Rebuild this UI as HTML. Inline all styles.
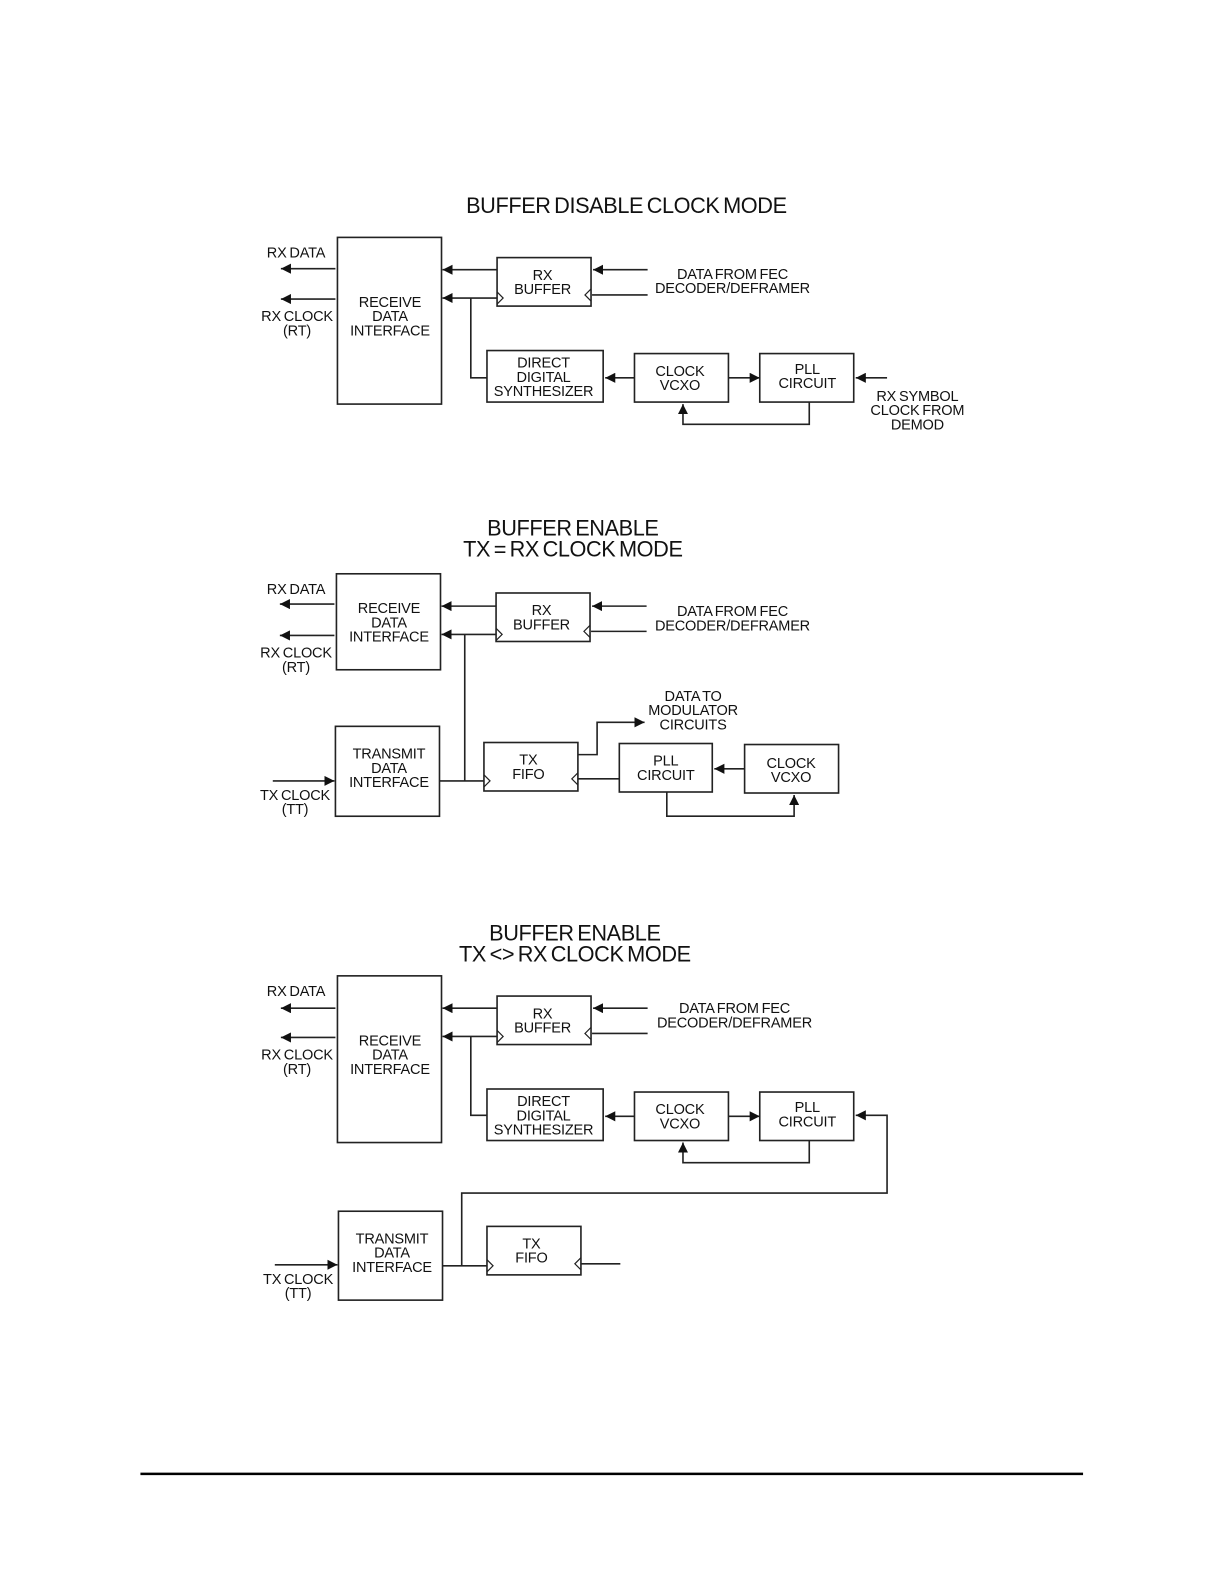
<!DOCTYPE html>
<html><head><meta charset="utf-8"><style>
html,body{margin:0;padding:0;background:#fff;width:1224px;height:1584px;overflow:hidden;}
svg{display:block;position:absolute;left:0;top:0;}
text{font-family:"Liberation Sans",sans-serif;font-size:14.4px;fill:#111;text-anchor:middle;letter-spacing:-0.2px;word-spacing:-1px;}
.t{font-size:21.5px;letter-spacing:-0.4px;word-spacing:-2px;}
.b{fill:none;stroke:#222;stroke-width:1.6;}
.l{fill:none;stroke:#222;stroke-width:1.6;}
.c{fill:none;stroke:#222;stroke-width:1.2;}
</style></head><body>
<svg width="1224" height="1584" viewBox="0 0 1211.5 1568" preserveAspectRatio="none" xmlns="http://www.w3.org/2000/svg">
<defs>
<marker id="a" viewBox="0 0 10 10" refX="10" refY="5" markerWidth="10" markerHeight="10" markerUnits="userSpaceOnUse" orient="auto">
<path d="M0,0 L10,5 L0,10 z" fill="#111"/></marker>
</defs>

<!-- ===== Diagram 1 ===== -->
<text class="t" x="620" y="211">BUFFER DISABLE CLOCK MODE</text>
<rect class="b" x="334" y="235" width="103" height="165"/>
<text x="386" y="304">RECEIVE</text><text x="386" y="318">DATA</text><text x="386" y="332">INTERFACE</text>
<text x="293" y="255">RX DATA</text>
<line class="l" x1="332" y1="266" x2="278" y2="266" marker-end="url(#a)"/>
<line class="l" x1="332" y1="296" x2="278" y2="296" marker-end="url(#a)"/>
<text x="294" y="318">RX CLOCK</text><text x="294" y="332">(RT)</text>
<rect class="b" x="492" y="255" width="93" height="48"/>
<text x="537" y="277">RX</text><text x="537" y="291">BUFFER</text>
<path class="c" d="M492,289 L498,295 L492,301"/>
<path class="c" d="M585,286 L579,292 L585,298"/>
<line class="l" x1="492" y1="267" x2="438" y2="267" marker-end="url(#a)"/>
<line class="l" x1="492" y1="295" x2="438" y2="295" marker-end="url(#a)"/>
<path class="l" d="M466,295 V374 H482"/>
<line class="l" x1="641" y1="267" x2="587" y2="267" marker-end="url(#a)"/>
<line class="l" x1="641" y1="292" x2="586" y2="292"/>
<text x="725" y="276">DATA FROM FEC</text><text x="725" y="290">DECODER/DEFRAMER</text>
<rect class="b" x="482" y="347" width="115" height="51"/>
<text x="538" y="364">DIRECT</text><text x="538" y="378">DIGITAL</text><text x="538" y="392">SYNTHESIZER</text>
<rect class="b" x="628" y="350" width="93" height="48"/>
<text x="673" y="372">CLOCK</text><text x="673" y="386">VCXO</text>
<rect class="b" x="752" y="350" width="93" height="48"/>
<text x="799" y="370">PLL</text><text x="799" y="384">CIRCUIT</text>
<line class="l" x1="628" y1="374" x2="599" y2="374" marker-end="url(#a)"/>
<line class="l" x1="721" y1="374" x2="752" y2="374" marker-end="url(#a)"/>
<line class="l" x1="878" y1="374" x2="847" y2="374" marker-end="url(#a)"/>
<text x="908" y="397">RX SYMBOL</text><text x="908" y="411">CLOCK FROM</text><text x="908" y="425">DEMOD</text>
<path class="l" d="M801,398 V420 H676 V400" marker-end="url(#a)"/>

<!-- ===== Diagram 2 ===== -->
<text class="t" x="567" y="530">BUFFER ENABLE</text>
<text class="t" x="567" y="551">TX = RX CLOCK MODE</text>
<rect class="b" x="333" y="568" width="103" height="95"/>
<text x="385" y="607">RECEIVE</text><text x="385" y="621">DATA</text><text x="385" y="635">INTERFACE</text>
<text x="293" y="588">RX DATA</text>
<line class="l" x1="331" y1="598" x2="277" y2="598" marker-end="url(#a)"/>
<line class="l" x1="331" y1="629" x2="277" y2="629" marker-end="url(#a)"/>
<text x="293" y="651">RX CLOCK</text><text x="293" y="665">(RT)</text>
<rect class="b" x="491" y="587" width="93" height="48"/>
<text x="536" y="609">RX</text><text x="536" y="623">BUFFER</text>
<path class="c" d="M491,622 L497,628 L491,634"/>
<path class="c" d="M584,619 L578,625 L584,631"/>
<line class="l" x1="491" y1="600" x2="437" y2="600" marker-end="url(#a)"/>
<line class="l" x1="491" y1="628" x2="437" y2="628" marker-end="url(#a)"/>
<line class="l" x1="640" y1="600" x2="586" y2="600" marker-end="url(#a)"/>
<line class="l" x1="640" y1="625" x2="585" y2="625"/>
<text x="725" y="610">DATA FROM FEC</text><text x="725" y="624">DECODER/DEFRAMER</text>
<line class="l" x1="460" y1="628" x2="460" y2="773"/>
<rect class="b" x="332" y="719" width="103" height="89"/>
<text x="385" y="751">TRANSMIT</text><text x="385" y="765">DATA</text><text x="385" y="779">INTERFACE</text>
<line class="l" x1="270" y1="773" x2="331" y2="773" marker-end="url(#a)"/>
<text x="292" y="792">TX CLOCK</text><text x="292" y="806">(TT)</text>
<line class="l" x1="435" y1="773" x2="479" y2="773"/>
<rect class="b" x="479" y="735" width="93" height="48"/>
<text x="523" y="757">TX</text><text x="523" y="771">FIFO</text>
<path class="c" d="M479,767 L485,773 L479,779"/>
<path class="c" d="M572,765 L566,771 L572,777"/>
<path class="l" d="M572,747 H591 V715 H638" marker-end="url(#a)"/>
<text x="686" y="694">DATA TO</text><text x="686" y="708">MODULATOR</text><text x="686" y="722">CIRCUITS</text>
<rect class="b" x="613" y="736" width="92" height="48"/>
<text x="659" y="758">PLL</text><text x="659" y="772">CIRCUIT</text>
<line class="l" x1="613" y1="771" x2="572" y2="771"/>
<rect class="b" x="737" y="737" width="93" height="48"/>
<text x="783" y="760">CLOCK</text><text x="783" y="774">VCXO</text>
<line class="l" x1="737" y1="761" x2="707" y2="761" marker-end="url(#a)"/>
<path class="l" d="M660,784 V808 H786 V787" marker-end="url(#a)"/>

<!-- ===== Diagram 3 ===== -->
<text class="t" x="569" y="931">BUFFER ENABLE</text>
<text class="t" x="569" y="952">TX &lt;&gt; RX CLOCK MODE</text>
<rect class="b" x="334" y="966" width="103" height="165"/>
<text x="386" y="1035">RECEIVE</text><text x="386" y="1049">DATA</text><text x="386" y="1063">INTERFACE</text>
<text x="293" y="986">RX DATA</text>
<line class="l" x1="332" y1="998" x2="278" y2="998" marker-end="url(#a)"/>
<line class="l" x1="332" y1="1027" x2="278" y2="1027" marker-end="url(#a)"/>
<text x="294" y="1049">RX CLOCK</text><text x="294" y="1063">(RT)</text>
<rect class="b" x="492" y="986" width="93" height="48"/>
<text x="537" y="1008">RX</text><text x="537" y="1022">BUFFER</text>
<path class="c" d="M492,1020 L498,1026 L492,1032"/>
<path class="c" d="M585,1017 L579,1023 L585,1029"/>
<line class="l" x1="492" y1="998" x2="438" y2="998" marker-end="url(#a)"/>
<line class="l" x1="492" y1="1026" x2="438" y2="1026" marker-end="url(#a)"/>
<line class="l" x1="641" y1="998" x2="587" y2="998" marker-end="url(#a)"/>
<line class="l" x1="641" y1="1023" x2="586" y2="1023"/>
<text x="727" y="1003">DATA FROM FEC</text><text x="727" y="1017">DECODER/DEFRAMER</text>
<path class="l" d="M466,1026 V1104 H482"/>
<rect class="b" x="482" y="1078" width="115" height="51"/>
<text x="538" y="1095">DIRECT</text><text x="538" y="1109">DIGITAL</text><text x="538" y="1123">SYNTHESIZER</text>
<rect class="b" x="628" y="1081" width="93" height="48"/>
<text x="673" y="1103">CLOCK</text><text x="673" y="1117">VCXO</text>
<rect class="b" x="752" y="1081" width="93" height="48"/>
<text x="799" y="1101">PLL</text><text x="799" y="1115">CIRCUIT</text>
<line class="l" x1="628" y1="1105" x2="599" y2="1105" marker-end="url(#a)"/>
<line class="l" x1="721" y1="1105" x2="752" y2="1105" marker-end="url(#a)"/>
<path class="l" d="M801,1129 V1151 H676 V1131" marker-end="url(#a)"/>
<path class="l" d="M457,1253 V1181 H878 V1104 H847" marker-end="url(#a)"/>
<rect class="b" x="335" y="1199" width="103" height="88"/>
<text x="388" y="1231">TRANSMIT</text><text x="388" y="1245">DATA</text><text x="388" y="1259">INTERFACE</text>
<line class="l" x1="272" y1="1252" x2="334" y2="1252" marker-end="url(#a)"/>
<text x="295" y="1271">TX CLOCK</text><text x="295" y="1285">(TT)</text>
<line class="l" x1="438" y1="1253" x2="482" y2="1253"/>
<rect class="b" x="482" y="1214" width="93" height="48"/>
<text x="526" y="1236">TX</text><text x="526" y="1250">FIFO</text>
<path class="c" d="M482,1247 L488,1253 L482,1259"/>
<path class="c" d="M575,1245 L569,1251 L575,1257"/>
<line class="l" x1="575" y1="1251" x2="614" y2="1251"/>

<!-- footer rule -->
<line x1="139" y1="1459" x2="1072" y2="1459" stroke="#000" stroke-width="2.5"/>
</svg>
</body></html>
